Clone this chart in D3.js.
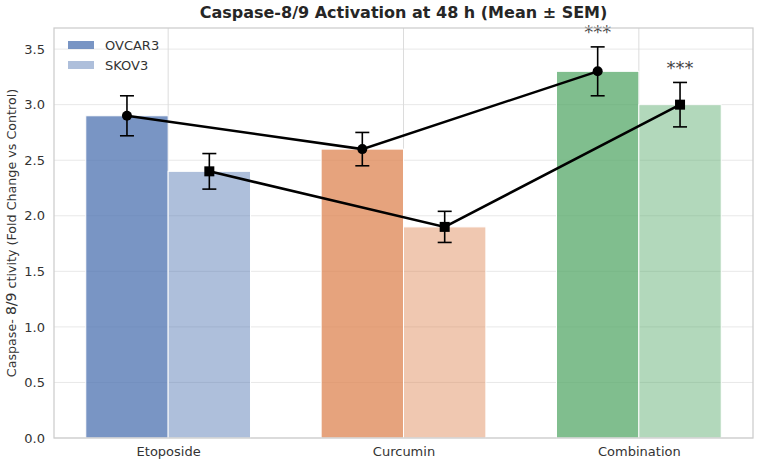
<!DOCTYPE html>
<html>
<head>
<meta charset="utf-8">
<title>Caspase-8/9 Activation</title>
<script src="https://d3js.org/d3.v7.min.js"></script>
<style>
  body { margin: 0; background: #fff; }
  text { font-family: "DejaVu Sans", sans-serif; }
  .tick text { fill: #333; font-size: 13px; }
</style>
</head>
<body>
<svg id="chart" width="758" height="464"></svg>
<script>
var treatments = ["Etoposide", "Curcumin", "Combination"];
var lines = ["OVCAR3", "SKOV3"];
var ovcarMean = [2.9, 2.6, 3.3];
var ovcarSem = [0.18, 0.15, 0.22];
var skovMean = [2.4, 1.9, 3.0];
var skovSem = [0.16, 0.14, 0.20];
var signif = [["", "", "***"], ["", "", "***"]];
var yTicks = [0.0, 0.5, 1.0, 1.5, 2.0, 2.5, 3.0, 3.5];

var palette = ["#4C72B0", "#DD8452", "#55A868"];
var alphas = [0.75, 0.45];
var barW = 0.35;

var svg = d3.select("#chart");
var m = { left: 54, right: 753, top: 28, bottom: 438 };

var x = d3.scaleLinear().domain([-0.485, 2.485]).range([m.left, m.right]);
var y = d3.scaleLinear().domain([0, 3.69]).range([m.bottom, m.top]);

var series = [
  { name: lines[0], mean: ovcarMean, sem: ovcarSem, off: -barW / 2 },
  { name: lines[1], mean: skovMean, sem: skovSem, off: barW / 2 }
];

// grid
svg.append("g").selectAll("line").data(yTicks).join("line")
  .attr("x1", m.left).attr("x2", m.right)
  .attr("y1", d => y(d)).attr("y2", d => y(d))
  .attr("stroke", "#e8e8e8").attr("stroke-width", 1);
svg.append("g").selectAll("line").data(treatments).join("line")
  .attr("x1", (d, i) => x(i)).attr("x2", (d, i) => x(i))
  .attr("y1", m.top).attr("y2", m.bottom)
  .attr("stroke", "#dcdcdc").attr("stroke-width", 1);

// bars
series.forEach(function(s, si) {
  svg.append("g").selectAll("rect").data(s.mean).join("rect")
    .attr("x", (d, i) => x(i + s.off - barW / 2))
    .attr("width", x(barW) - x(0))
    .attr("y", d => y(d))
    .attr("height", d => y(0) - y(d))
    .attr("fill", (d, i) => palette[i])
    .attr("fill-opacity", alphas[si])
    .attr("stroke", "#fff").attr("stroke-width", 1);
});

// lines + error bars + markers
series.forEach(function(s, si) {
  var pts = s.mean.map((d, i) => [x(i + s.off), y(d)]);
  svg.append("path").datum(pts)
    .attr("d", d3.line())
    .attr("fill", "none").attr("stroke", "#000").attr("stroke-width", 2.5);

  var eb = svg.append("g");
  s.mean.forEach(function(d, i) {
    var cx = x(i + s.off);
    var y1 = y(d + s.sem[i]), y2 = y(d - s.sem[i]);
    eb.append("line").attr("x1", cx).attr("x2", cx).attr("y1", y1).attr("y2", y2)
      .attr("stroke", "#000").attr("stroke-width", 1.6);
    [y1, y2].forEach(function(yy) {
      eb.append("line").attr("x1", cx - 7).attr("x2", cx + 7).attr("y1", yy).attr("y2", yy)
        .attr("stroke", "#000").attr("stroke-width", 1.6);
    });
    if (si === 0) {
      eb.append("circle").attr("cx", cx).attr("cy", y(d)).attr("r", 5).attr("fill", "#000");
    } else {
      eb.append("rect").attr("x", cx - 5).attr("y", y(d) - 5).attr("width", 10).attr("height", 10).attr("fill", "#000");
    }
    if (signif[si][i]) {
      svg.append("text").attr("x", cx).attr("y", y(d + s.sem[i] + 0.05) - 3)
        .attr("text-anchor", "middle").attr("font-size", 18).attr("fill", "#444")
        .text(signif[si][i]);
    }
  });
});

// axes
var yAxis = svg.append("g").attr("transform", "translate(" + m.left + ",0)")
  .call(d3.axisLeft(y).tickValues(yTicks).tickFormat(d3.format(".1f")).tickSize(0).tickPadding(9));
yAxis.select(".domain").remove();
var xAxis = svg.append("g").attr("transform", "translate(0," + m.bottom + ")")
  .call(d3.axisBottom(x).tickValues([0, 1, 2]).tickFormat(i => treatments[i]).tickSize(0).tickPadding(9));
xAxis.select(".domain").remove();

// frame
svg.append("rect").attr("x", m.left).attr("y", m.top)
  .attr("width", m.right - m.left).attr("height", m.bottom - m.top)
  .attr("fill", "none").attr("stroke", "#cccccc").attr("stroke-width", 1.25);

// title
svg.append("text").attr("x", (m.left + m.right) / 2).attr("y", 18)
  .attr("text-anchor", "middle").attr("font-size", 16).attr("font-weight", "bold").attr("fill", "#262626")
  .text("Caspase-8/9 Activation at 48 h (Mean \u00b1 SEM)");

// y label
var yl = svg.append("text")
  .attr("transform", "translate(16," + ((m.top + m.bottom) / 2) + ") rotate(-90)")
  .attr("text-anchor", "middle").attr("font-size", 12.7).attr("fill", "#333");
yl.append("tspan").text("Caspase- ");
yl.append("tspan").attr("font-size", 14).text("8/9");
yl.append("tspan").text("  ctivity (Fold Change vs Control)");

// legend
var lg = svg.append("g").attr("transform", "translate(68,41)");
lines.forEach(function(n, i) {
  lg.append("rect").attr("x", 0).attr("y", i * 20).attr("width", 26).attr("height", 8)
    .attr("fill", palette[0]).attr("fill-opacity", alphas[i]);
  lg.append("text").attr("x", 37).attr("y", i * 20 + 9).attr("font-size", 13).attr("fill", "#333").text(n);
});
</script>
</body>
</html>
